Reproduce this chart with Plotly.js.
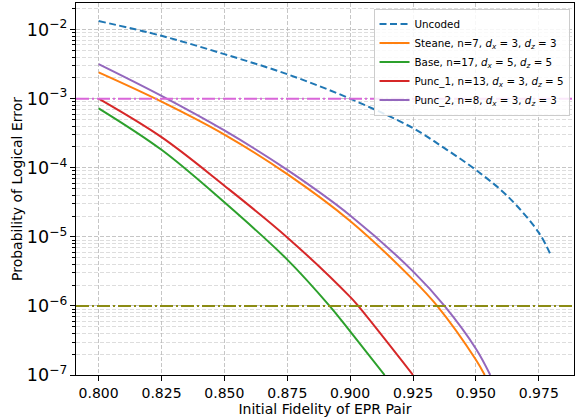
<!DOCTYPE html>
<html>
<head>
<meta charset="utf-8">
<script src="https://cdn.plot.ly/plotly-3.0.1.min.js"></script>
<style>html,body{margin:0;padding:0;background:#fff;}#chart{width:584px;height:419px;}</style>
</head>
<body>
<div id="chart"></div>
<script>
// ---- data ----
const uncodedF = [0.8, 0.825, 0.85, 0.875, 0.9, 0.925, 0.9375, 0.95, 0.9625, 0.975, 0.98];
const uncodedP = [1.33e-2, 8.13e-3, 4.41e-3, 2.26e-3, 1.0e-3, 3.74e-4, 1.92e-4, 9.3e-5, 3.9e-5, 1.15e-5, 5.2e-6];

const steaneF = [0.8, 0.825, 0.85, 0.875, 0.9, 0.925, 0.9346, 0.95, 0.9535];
const steaneP = [2.40e-3, 9.06e-4, 3.02e-4, 8.1e-5, 1.70e-5, 2.40e-6, 1.0e-6, 1.66e-7, 1.0e-7];

const baseF = [0.8, 0.825, 0.85, 0.875, 0.8918, 0.9, 0.9137];
const baseP = [7.26e-4, 1.82e-4, 3.16e-5, 4.68e-6, 1.0e-6, 4.27e-7, 1.0e-7];

const punc1F = [0.8, 0.825, 0.85, 0.875, 0.9, 0.9032, 0.925];
const punc1P = [1.0e-3, 2.77e-4, 5.5e-5, 9.8e-6, 1.35e-6, 1.0e-6, 1.0e-7];

const punc2F = [0.8, 0.825, 0.85, 0.875, 0.9, 0.925, 0.9375, 0.95, 0.9557];
const punc2P = [3.17e-3, 1.10e-3, 3.47e-4, 9.3e-5, 2.04e-5, 3.16e-6, 1.0e-6, 2.4e-7, 1.0e-7];

const thresholds = [1e-3, 1e-6];
const thresholdColors = ['#d966d9', '#8c8c14'];

const seriesNames = [
  'Uncoded',
  'Steane, n=7, <i>d</i><sub><i>x</i></sub> = 3, <i>d</i><sub><i>z</i></sub> = 3',
  'Base, n=17, <i>d</i><sub><i>x</i></sub> = 5, <i>d</i><sub><i>z</i></sub> = 5',
  'Punc_1, n=13, <i>d</i><sub><i>x</i></sub> = 3, <i>d</i><sub><i>z</i></sub> = 5',
  'Punc_2, n=8, <i>d</i><sub><i>x</i></sub> = 3, <i>d</i><sub><i>z</i></sub> = 3'
];
const seriesColors = ['#1f77b4', '#ff7f0e', '#2ca02c', '#d62728', '#9467bd'];
const xTickVals = [0.8, 0.825, 0.85, 0.875, 0.9, 0.925, 0.95, 0.975];

// ---- build ----
const xs = [uncodedF, steaneF, baseF, punc1F, punc2F];
const ys = [uncodedP, steaneP, baseP, punc1P, punc2P];
const traces = xs.map((x, i) => ({
  x: x, y: ys[i], name: seriesNames[i], type: 'scatter', mode: 'lines',
  line: {color: seriesColors[i], width: 2, shape: 'spline', smoothing: 1,
         dash: i === 0 ? '7px,3.5px' : 'solid'}
}));

const font = {family: 'DejaVu Sans, sans-serif', size: 14, color: '#000'};
const layout = {
  width: 584, height: 419,
  margin: {l: 76, r: 10, t: 3, b: 44},
  paper_bgcolor: '#fff', plot_bgcolor: '#fff',
  font: font,
  showlegend: true,
  legend: {
    x: 0.991, xanchor: 'right', y: 0.985, yanchor: 'top',
    bgcolor: 'rgba(255,255,255,0.85)', bordercolor: '#cccccc', borderwidth: 1,
    font: {family: 'DejaVu Sans, sans-serif', size: 10.3, color: '#000'},
    tracegroupgap: 0, itemwidth: 30
  },
  xaxis: {
    range: [0.791, 0.989], tickvals: xTickVals, tickformat: '.3f',
    showline: true, mirror: true, linecolor: '#000', linewidth: 1,
    ticks: 'outside', ticklen: 5, tickwidth: 1, tickcolor: '#000',
    showgrid: true, gridcolor: '#b8b8b8', gridwidth: 0.8, griddash: '4px,2px',
    zeroline: false, tickfont: font,
    title: {text: 'Initial Fidelity of EPR Pair', font: font, standoff: 4}
  },
  yaxis: {
    type: 'log', range: [-7, -1.615], dtick: 1, exponentformat: 'power',
    showline: true, mirror: true, linecolor: '#000', linewidth: 1,
    ticks: 'outside', ticklen: 5, tickwidth: 1, tickcolor: '#000',
    showgrid: true, gridcolor: '#b8b8b8', gridwidth: 0.8, griddash: '4px,2px',
    minor: {dtick: 'D1', ticks: 'outside', ticklen: 3, tickcolor: '#000',
            showgrid: true, gridcolor: '#d4d4d4', gridwidth: 0.8, griddash: '4px,2px'},
    zeroline: false, tickfont: font,
    title: {text: 'Probability of Logical Error', font: font, standoff: 0}
  },
  shapes: thresholds.map((t, i) => ({
    type: 'line', xref: 'paper', x0: 0, x1: 1, yref: 'y', y0: t, y1: t,
    line: {color: thresholdColors[i], width: 2, dash: '13px,3px,2px,3px'},
    layer: 'above'
  }))
};

Plotly.newPlot('chart', traces, layout, {displayModeBar: false, staticPlot: true});
</script>
</body>
</html>
